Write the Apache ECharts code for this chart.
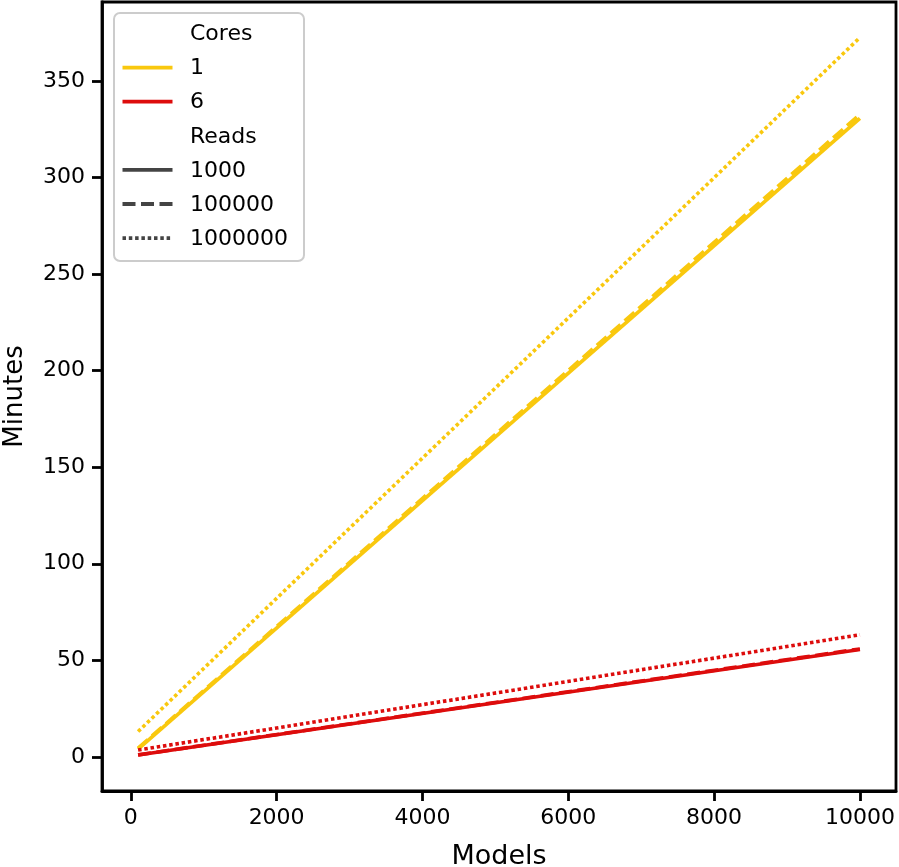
<!DOCTYPE html>
<html><head><meta charset="utf-8">
<script src="https://cdn.jsdelivr.net/npm/echarts@6/dist/echarts.min.js"></script>
<style>html,body{margin:0;padding:0;background:#fff}#c{width:899px;height:867px}</style>
</head><body><div id="c"></div>
<script>
const models = [100, 10000];
const y_c1_r1000 = [4.0, 330.7];
const y_c1_r100000 = [4.5, 332.8];
const y_c1_r1000000 = [13.1, 372.6];
const y_c6_r1000 = [0.9, 55.6];
const y_c6_r100000 = [1.0, 55.9];
const y_c6_r1000000 = [3.5, 63.2];
const xTicks = [0, 2000, 4000, 6000, 8000, 10000];
const yTicks = [0, 50, 100, 150, 200, 250, 300, 350];
const coreLevels = ['1', '6'];
const readLevels = ['1000', '100000', '1000000'];
const coreColors = {'1': '#F9C80E', '6': '#DD0C0C'};
const readStyles = {'1000': 'solid', '100000': [13, 5.5], '1000000': [3.5, 2.8]};

const FONT = 'DejaVu Sans';
function pts(ys){ return models.map((m,i)=>[m, ys[i]]); }
const lines = [
  ['1','1000',y_c1_r1000],['1','100000',y_c1_r100000],['1','1000000',y_c1_r1000000],
  ['6','1000',y_c6_r1000],['6','100000',y_c6_r100000],['6','1000000',y_c6_r1000000]
];
const series = lines.map(([c,r,ys])=>({
  type:'line', name:'c'+c+'r'+r, data:pts(ys), symbol:'none', silent:true,
  lineStyle:{color:coreColors[c], width:3.6, type:readStyles[r], cap:'butt'}, z:3
}));

// legend drawn with graphic elements
const legendRows = [
  {label:'Cores'},
  ...coreLevels.map(c=>({label:c, color:coreColors[c], dash:'solid'})),
  {label:'Reads'},
  ...readLevels.map(r=>({label:r, color:'#444', dash:readStyles[r]}))
];
const LX = 114, LY = 13, LW = 190, LH = 248, ROW0 = 33.5, ROWH = 34.1;
const graphics = [{type:'rect', shape:{x:LX, y:LY, width:LW, height:LH, r:6},
  style:{fill:'rgba(255,255,255,0.85)', stroke:'#cccccc', lineWidth:2}, z:10}];
legendRows.forEach((row,i)=>{
  const cy = ROW0 + i*ROWH;
  if(row.color){
    graphics.push({type:'line', shape:{x1:122.5, y1:cy, x2:172.5, y2:cy},
      style:{stroke:row.color, lineWidth:3.8, lineDash:row.dash==='solid'?null:row.dash, lineCap:'butt'}, z:11});
  }
  graphics.push({type:'text', x:190, y:cy+1, style:{text:row.label, font:'22px "DejaVu Sans"', fill:'#000',
    verticalAlign:'middle', align:'left'}, z:11});
});

const chart = echarts.init(document.getElementById('c'));
chart.setOption({
  animation:false,
  textStyle:{fontFamily:FONT},
  grid:{left:102,top:2,right:3,bottom:76,containLabel:false,outerBoundsMode:'none',
    show:true,borderColor:'#000',borderWidth:2.8,backgroundColor:'#fff'},
  xAxis:{type:'value',min:-395,max:10495,
    name:'Models',nameLocation:'middle',nameGap:52,
    nameTextStyle:{fontFamily:FONT,fontSize:27,color:'#000'},
    splitLine:{show:false},
    axisLine:{show:true,onZero:false,lineStyle:{color:'#000',width:2.8}},
    axisTick:{show:true,length:10,lineStyle:{color:'#000',width:2.8},customValues:xTicks},
    axisLabel:{fontFamily:FONT,fontSize:22,color:'#000',margin:16,customValues:xTicks,formatter:v=>String(v)}
  },
  yAxis:{type:'value',min:-17.7,max:391,
    name:'Minutes',nameLocation:'middle',nameGap:74,
    nameTextStyle:{fontFamily:FONT,fontSize:26,color:'#000'},
    splitLine:{show:false},
    axisLine:{show:true,onZero:false,lineStyle:{color:'#000',width:2.8}},
    axisTick:{show:true,length:10,lineStyle:{color:'#000',width:2.8},customValues:yTicks},
    axisLabel:{fontFamily:FONT,fontSize:22,color:'#000',margin:17,customValues:yTicks,formatter:v=>String(v)}
  },
  graphic:graphics,
  series:series
});
</script></body></html>
